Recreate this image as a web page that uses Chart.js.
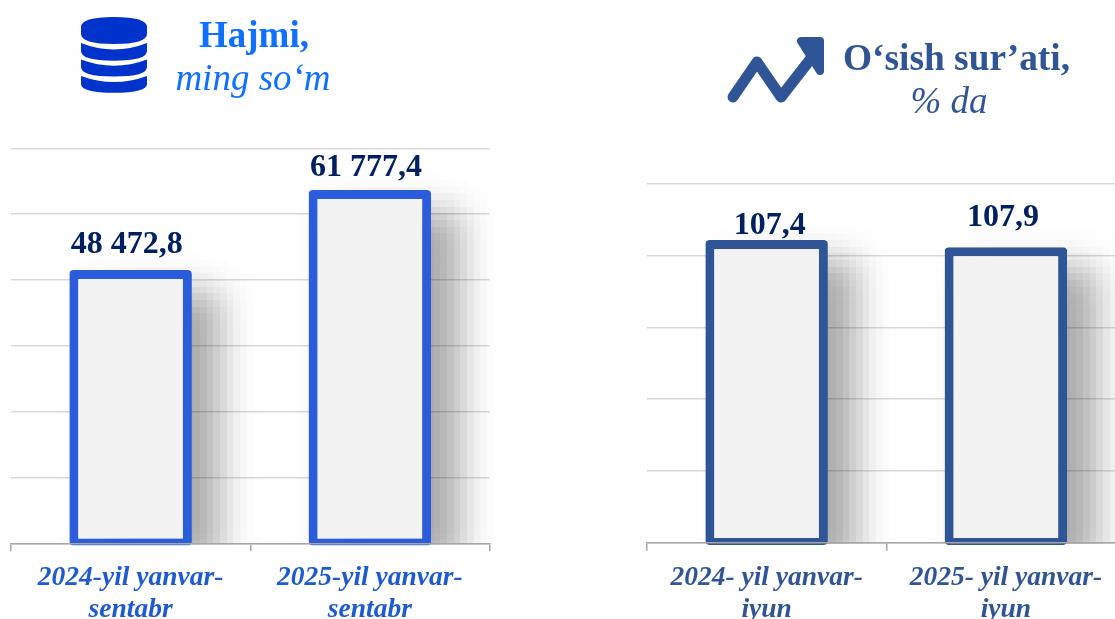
<!DOCTYPE html>
<html>
<head>
<meta charset="utf-8">
<script src="https://cdn.jsdelivr.net/npm/chart.js@4"></script>
<style>
html,body{margin:0;padding:0;width:1115px;height:619px;overflow:hidden;background:#fff}
canvas{position:absolute;top:0}
#volume{left:0}
#growth{left:636px}
.t{position:absolute;font-family:"Liberation Serif",serif;white-space:nowrap;transform:translateX(-50%);line-height:1}
.b{font-weight:bold}.i{font-style:italic}
svg{position:absolute;left:0;top:0}
</style>
</head>
<body>
<canvas id="volume" width="500" height="619"></canvas>
<canvas id="growth" width="500" height="619"></canvas>
<svg width="1115" height="160" viewBox="0 0 1115 160">
  <g fill="#0033cc">
    <path d="M81 27 Q81 17 114 17 Q147 17 147 27 V34 Q147 44 114 44 Q81 44 81 34Z"/>
    <path d="M81 43 Q114 56 147 43 V51 Q147 60.7 114 60.7 Q81 60.7 81 51Z"/>
    <path d="M81 59.5 Q114 72 147 59.5 V67 Q147 76.5 114 76.5 Q81 76.5 81 67Z"/>
    <path d="M81 76 Q114 88 147 76 V84 Q147 92.8 114 92.8 Q81 92.8 81 84Z"/>
  </g>
  <g stroke="#2f5597" stroke-linecap="round" stroke-linejoin="round" fill="#2f5597">
    <polyline points="733,97 757,62 781,97 816,52" stroke-width="11" fill="none"/>
    <polygon points="801,41 820,41 820,71" stroke-width="8"/>
  </g>
</svg>
<div class="t b" style="left:254px;top:16px;font-size:37px;color:#0f6fff">Hajmi,</div>
<div class="t i" style="left:253px;top:59px;font-size:37px;color:#0f6fff">ming so‘m</div>
<div class="t b" style="left:956.5px;top:39px;font-size:37.4px;color:#2f5597">O‘sish sur’ati,</div>
<div class="t i" style="left:949px;top:82px;font-size:37px;color:#2f5597">% da</div>
<script>
// --- Data ---
const volumeCategories = [["2024-yil yanvar-", "sentabr"], ["2025-yil yanvar-", "sentabr"]];
const volumeValues = [48472.8, 61777.4];
const volumeLabels = ["48 472,8", "61 777,4"];

const growthCategories = [["2024- yil yanvar-", "iyun"], ["2025- yil yanvar-", "iyun"]];
// Drawn bar heights as they appear in the picture, on its unlabelled 0-125 grid.
// The printed labels below are what the picture's text says.
const growthHeights = [105.5, 103.0];
const growthLabels = ["107,4", "107,9"];

const labelFont = 'bold 32px "Liberation Serif"';
const labelColor = "#002060";
const CELL = 6.67;

// Blocky soft shadow behind each bar, positioned from the bar element itself.
const shadowPlugin = {
  id: "blockShadow",
  beforeDatasetsDraw(chart) {
    const ctx = chart.ctx, a = chart.chartArea;
    const W = Math.ceil(chart.width / CELL), H = Math.ceil(chart.height / CELL);
    const off = document.createElement("canvas");
    off.width = W; off.height = H;
    const o = off.getContext("2d");
    const far = 4000;
    o.shadowColor = "rgba(0,0,0,0.34)";
    o.shadowBlur = 34 / CELL;
    o.shadowOffsetX = far;
    o.shadowOffsetY = 0;
    o.fillStyle = "#000";
    chart.getDatasetMeta(0).data.forEach(el => {
      const p = el.getProps(["x", "y", "width", "base"], true);
      const l = p.x - p.width / 2 + 28, r = p.x + p.width / 2 + 28, t = p.y + 23, b = p.base + 23;
      o.fillRect(l / CELL - far, t / CELL, (r - l) / CELL, (b - t) / CELL);
    });
    ctx.save();
    ctx.beginPath();
    ctx.rect(0, 0, chart.width, a.bottom + 1);
    ctx.clip();
    ctx.imageSmoothingEnabled = false;
    ctx.drawImage(off, 0, 0, W * CELL, H * CELL);
    ctx.restore();
  }
};

// Value captions above the bars.
const captionPlugin = {
  id: "captions",
  afterDatasetsDraw(chart, args, opts) {
    const ctx = chart.ctx;
    ctx.save();
    ctx.font = labelFont;
    ctx.fillStyle = labelColor;
    ctx.textAlign = "center";
    ctx.textBaseline = "alphabetic";
    chart.getDatasetMeta(0).data.forEach((el, i) => {
      ctx.fillText(opts.texts[i], el.x + opts.dx[i], el.y + opts.dy[i]);
    });
    ctx.restore();
  }
};

function makeChart(id, categories, values, texts, cfg) {
  return new Chart(document.getElementById(id), {
    type: "bar",
    data: {
      labels: categories,
      datasets: [{
        data: values,
        base: cfg.base,
        backgroundColor: "#f2f2f2",
        borderColor: cfg.color,
        borderWidth: { top: 9, left: 9, right: 9, bottom: 7 },
        borderSkipped: false,
        borderRadius: 4,
        categoryPercentage: 1,
        barPercentage: 0.512,
        clip: false
      }]
    },
    options: {
      responsive: false,
      animation: false,
      events: [],
      layout: { padding: cfg.padding },
      plugins: {
        legend: { display: false },
        title: { display: false },
        tooltip: { enabled: false },
        captions: { texts, dx: cfg.dx, dy: cfg.dy }
      },
      scales: {
        x: {
          afterFit(scale) { scale.height = cfg.xHeight; },
          grid: { drawOnChartArea: false, drawTicks: true, tickLength: 8, color: "#a6a6a6", lineWidth: 1.5 },
          border: { display: true, color: "#a6a6a6", width: 1.5, z: 1 },
          ticks: {
            autoSkip: false, maxRotation: 0, minRotation: 0, padding: 11,
            color: cfg.tickColor,
            font: { family: "Liberation Serif", size: 27.5, style: "italic", weight: "bold", lineHeight: 1.16 }
          }
        },
        y: {
          min: cfg.min, max: cfg.max,
          ticks: { display: false, stepSize: cfg.step },
          grid: { color: "#d9d9d9", lineWidth: 1.5, drawTicks: false },
          border: { display: false }
        }
      }
    },
    plugins: [shadowPlugin, captionPlugin]
  });
}

makeChart("volume", volumeCategories, volumeValues, volumeLabels, {
  color: "#2b5cdb", tickColor: "#1f5bd0",
  min: 3000, max: 68700, step: 10950, base: 2650,
  padding: { left: 11, right: 10.5, top: 148.3, bottom: 0 },
  xHeight: 75.7,
  dx: [-4, -4], dy: [-17, -14]
});

makeChart("growth", growthCategories, growthHeights, growthLabels, {
  color: "#2f5597", tickColor: "#2f5597",
  min: 0, max: 125, step: 25, base: -0.8,
  padding: { left: 11, right: 10.5, top: 184, bottom: 0 },
  xHeight: 76.3,
  dx: [3, -3], dy: [-6, -21]
});
</script>
</body>
</html>
